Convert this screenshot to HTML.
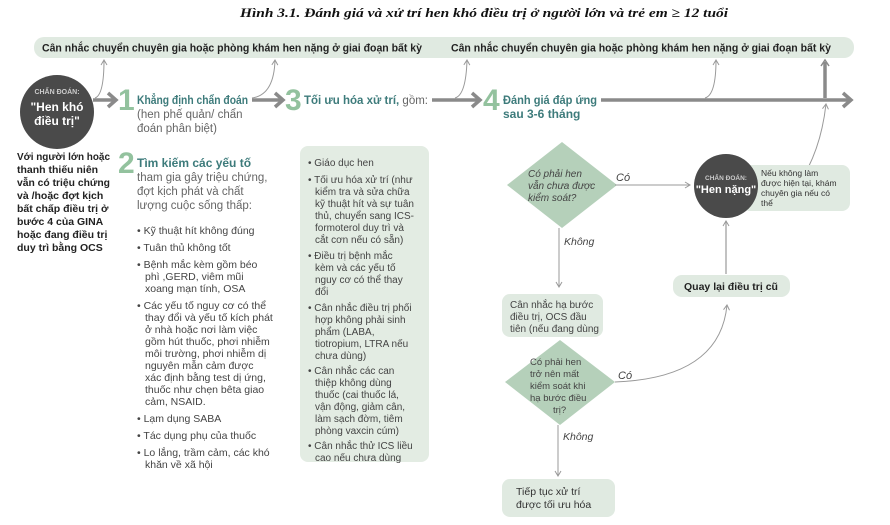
<!DOCTYPE html>
<html><head><meta charset="utf-8"><style>
body{margin:0;background:#fff}
svg{display:block}
text{font-family:"Liberation Sans",sans-serif}
.t{fill:#222;font-size:10.5px}
.g{fill:#666;font-size:11.5px}
.b{fill:#444;font-size:10.5px}
.tl{fill:#3d7b7b;font-size:12px;font-weight:bold}
.n{fill:#93c29e;font-size:30px;font-weight:bold}
.i{fill:#444;font-size:10px;font-style:italic}
</style></head><body>
<svg width="890" height="525" viewBox="0 0 890 525" xmlns="http://www.w3.org/2000/svg">
<defs>
<marker id="a" markerWidth="8" markerHeight="8" refX="6" refY="4" orient="auto" markerUnits="userSpaceOnUse"><path d="M1,1 L6,4 L1,7" fill="none" stroke="#999" stroke-width="1"/></marker>
</defs>
<text x="484" y="17" text-anchor="middle" textLength="488" lengthAdjust="spacingAndGlyphs" style="font-family:'Liberation Serif',serif;font-weight:bold;font-style:italic;font-size:13px;fill:#111">Hình  3.1. Đánh giá và xử trí hen khó điều trị ở người lớn và trẻ em ≥ 12 tuổi</text>
<rect x="34" y="37" width="820" height="21" rx="10" fill="#e0eae1"/>
<text x="42" y="51.5" textLength="380" lengthAdjust="spacingAndGlyphs" style="font-size:11px;font-weight:bold;fill:#222">Cân nhắc chuyển chuyên gia hoặc phòng khám hen nặng ở giai đoạn bất kỳ</text>
<text x="451" y="51.5" textLength="380" lengthAdjust="spacingAndGlyphs" style="font-size:11px;font-weight:bold;fill:#222">Cân nhắc chuyển chuyên gia hoặc phòng khám hen nặng ở giai đoạn bất kỳ</text>
<g stroke="#8a8a8a" stroke-width="3.5" fill="none">
<line x1="93" y1="100" x2="114" y2="100"/><path d="M108,93 L116,100 L108,107"/>
<line x1="252" y1="100" x2="281" y2="100"/><path d="M275,93 L283,100 L275,107"/>
<line x1="432" y1="100" x2="479" y2="100"/><path d="M472,93 L480,100 L472,107"/>
<line x1="601" y1="100" x2="849" y2="100"/><path d="M843,93 L851,100 L843,107"/>
<line x1="825" y1="98" x2="825" y2="62"/><path d="M821,66 L825,60 L829,66" stroke-width="1.5"/>
</g>
<g stroke="#999" stroke-width="1" fill="none" marker-end="url(#a)">
<path d="M95,98 Q104,95 104,60"/>
<path d="M252,98 Q274,95 275,60"/>
<path d="M455,98 Q466,95 467,60"/>
<path d="M705,98 Q716,95 716,60"/>
<path d="M808,168 Q822,140 826,104"/>
</g>
<circle cx="57" cy="112" r="37" fill="#4a4a4a"/>
<text x="57" y="94" text-anchor="middle" style="font-size:7px;font-weight:bold;fill:#ccc">CHẨN ĐOÁN:</text>
<text x="57" y="111" text-anchor="middle" style="font-size:12px;font-weight:bold;fill:#fff">"Hen khó</text>
<text x="57" y="125" text-anchor="middle" style="font-size:12px;font-weight:bold;fill:#fff">điều trị"</text>
<text class="n" x="118" y="110">1</text>
<text class="tl" x="137" y="104" textLength="111" lengthAdjust="spacingAndGlyphs">Khẳng định chẩn đoán</text>
<text class="g" x="137" y="118">(hen phế quản/ chẩn</text>
<text class="g" x="137" y="132">đoán phân biệt)</text>
<text class="n" x="285" y="110">3</text>
<text class="tl" x="304" y="104" textLength="124" lengthAdjust="spacingAndGlyphs">Tối ưu hóa xử trí, <tspan style="font-weight:normal;fill:#666">gồm:</tspan></text>
<text class="n" x="483" y="110">4</text>
<text class="tl" x="503" y="104" textLength="94" lengthAdjust="spacingAndGlyphs">Đánh giá đáp ứng</text>
<text class="tl" x="503" y="118">sau 3-6 tháng</text>
<g style="font-size:10.5px;font-weight:bold;fill:#222">
<text x="17" y="160" textLength="93" lengthAdjust="spacingAndGlyphs">Với người lớn hoặc</text><text x="17" y="173">thanh thiếu niên</text><text x="17" y="186" textLength="93" lengthAdjust="spacingAndGlyphs">vẫn có triệu chứng</text><text x="17" y="199">và /hoặc đợt kịch</text><text x="17" y="212">bất chấp điều trị ở</text><text x="17" y="225">bước 4 của GINA</text><text x="17" y="238">hoặc đang điều trị</text><text x="17" y="251">duy trì bằng OCS</text>
</g>
<text class="n" x="118" y="173">2</text>
<text class="tl" x="137" y="167">Tìm kiếm các yếu tố</text>
<text class="g" x="137" y="181">tham gia gây triệu chứng,</text>
<text class="g" x="137" y="195">đợt kịch phát và chất</text>
<text class="g" x="137" y="209">lượng cuộc sống thấp:</text>
<g class="b">
<text x="137" y="234">• Kỹ thuật hít không đúng</text>
<text x="137" y="251">• Tuân thủ không tốt</text>
<text x="137" y="268">• Bệnh mắc kèm gồm béo</text><text x="145" y="280">phì ,GERD, viêm mũi</text><text x="145" y="292">xoang mạn tính, OSA</text>
<text x="137" y="309">• Các yếu tố nguy cơ có thể</text><text x="145" y="321">thay đổi và yếu tố kích phát</text><text x="145" y="333">ở nhà hoặc nơi làm việc</text><text x="145" y="345">gồm hút thuốc, phơi nhiễm</text><text x="145" y="357">môi trường, phơi nhiễm dị</text><text x="145" y="369">nguyên mẫn cảm được</text><text x="145" y="381">xác định bằng test dị ứng,</text><text x="145" y="393">thuốc như chẹn bêta giao</text><text x="145" y="405">cảm, NSAID.</text>
<text x="137" y="422">• Lạm dụng SABA</text>
<text x="137" y="439">• Tác dụng phụ của thuốc</text>
<text x="137" y="456">• Lo lắng, trầm cảm, các khó</text><text x="145" y="468">khăn về xã hội</text>
</g>
<rect x="300" y="146" width="129" height="316" rx="8" fill="#e3ece3"/>
<g class="b" style="font-size:10px">
<text x="308" y="166">• Giáo dục hen</text>
<text x="308" y="183">• Tối ưu hóa xử trí (như</text><text x="315" y="195">kiểm tra và sửa chữa</text><text x="315" y="207">kỹ thuật hít và sự tuân</text><text x="315" y="219">thủ, chuyển sang ICS-</text><text x="315" y="231">formoterol duy trì và</text><text x="315" y="243">cắt cơn nếu có sẵn)</text>
<text x="308" y="259">• Điều trị bệnh mắc</text><text x="315" y="271">kèm và các yếu tố</text><text x="315" y="283">nguy cơ có thể thay</text><text x="315" y="295">đổi</text>
<text x="308" y="311">• Cân nhắc điều trị phối</text><text x="315" y="323">hợp không phải sinh</text><text x="315" y="335">phẩm (LABA,</text><text x="315" y="347">tiotropium, LTRA nếu</text><text x="315" y="359">chưa dùng)</text>
<text x="308" y="374">• Cân nhắc các can</text><text x="315" y="386">thiệp không dùng</text><text x="315" y="398">thuốc (cai thuốc lá,</text><text x="315" y="410">vận động, giảm cân,</text><text x="315" y="422">làm sạch đờm, tiêm</text><text x="315" y="434">phòng vaxcin cúm)</text>
<text x="308" y="449">• Cân nhắc thử ICS liều</text><text x="315" y="461">cao nếu chưa dùng</text>
</g>
<polygon points="562,142 617,185 562,228 507,185" fill="#b5d0ba"/>
<g class="i"><text x="528" y="177">Có phải hen</text><text x="528" y="189">vẫn chưa được</text><text x="528" y="201">kiểm soát?</text></g>
<text class="i" x="616" y="181" style="font-size:11px">Có</text>
<line x1="615" y1="185" x2="690" y2="185" stroke="#999" stroke-width="1" marker-end="url(#a)"/>
<rect x="742" y="165" width="108" height="46" rx="8" fill="#e0eae1"/>
<g style="font-size:8.5px;fill:#333"><text x="761" y="176">Nếu không làm</text><text x="761" y="186">được hiện tại, khám</text><text x="761" y="196">chuyên gia nếu có</text><text x="761" y="206">thể</text></g>
<circle cx="726" cy="186" r="32" fill="#4a4a4a"/>
<text x="726" y="180" text-anchor="middle" style="font-size:6.5px;font-weight:bold;fill:#ccc">CHẨN ĐOÁN:</text>
<text x="726" y="193" text-anchor="middle" style="font-size:11px;font-weight:bold;fill:#fff">"Hen nặng"</text>
<line x1="726" y1="274" x2="726" y2="221" stroke="#999" stroke-width="1.2" marker-end="url(#a)"/>
<rect x="673" y="275" width="117" height="22" rx="9" fill="#e0eae1"/>
<text x="731" y="290" text-anchor="middle" style="font-size:10.5px;font-weight:bold;fill:#222">Quay lại điều trị cũ</text>
<text class="i" x="564" y="245" style="font-size:10.5px">Không</text>
<line x1="559" y1="228" x2="559" y2="287" stroke="#999" stroke-width="1" marker-end="url(#a)"/>
<rect x="502" y="294" width="101" height="43" rx="8" fill="#e0eae1"/>
<g style="font-size:10px;fill:#444"><text x="510" y="308">Cân nhắc hạ bước</text><text x="510" y="320">điều trị, OCS đầu</text><text x="510" y="332">tiên (nếu đang dùng</text></g>
<polygon points="560,340 615,382 560,425 505,382" fill="#b5d0ba"/>
<g style="font-size:9.5px;fill:#444"><text x="530" y="365">Có phải hen</text><text x="530" y="377">trở nên mất</text><text x="530" y="389">kiểm soát khi</text><text x="530" y="401">hạ bước điều</text><text x="553" y="413">trị?</text></g>
<text class="i" x="618" y="379" style="font-size:11px">Có</text>
<path d="M615,382 Q720,378 727,305" fill="none" stroke="#999" stroke-width="1" marker-end="url(#a)"/>
<text class="i" x="563" y="440" style="font-size:10.5px">Không</text>
<line x1="558" y1="425" x2="558" y2="476" stroke="#999" stroke-width="1" marker-end="url(#a)"/>
<rect x="502" y="479" width="113" height="38" rx="8" fill="#e0eae1"/>
<g style="font-size:10.5px;fill:#333"><text x="516" y="495">Tiếp tục xử trí</text><text x="516" y="508">được tối ưu hóa</text></g>
</svg>
</body></html>
